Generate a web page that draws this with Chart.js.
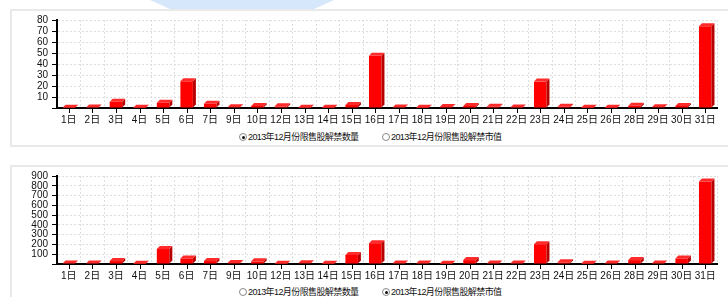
<!DOCTYPE html>
<html>
<head>
<meta charset="utf-8">
<script src="https://cdn.jsdelivr.net/npm/chart.js@4/dist/chart.umd.min.js"></script>
<style>
  body { margin: 0; background: #fff; width: 728px; height: 297px; overflow: hidden; position: relative;
         font-family: "Liberation Sans", "Noto Sans CJK SC", sans-serif; }
  .swoosh { position: absolute; left: 150px; top: 0; width: 184px; height: 10px; background: #d6e6fb;
            clip-path: polygon(0 0, 100% 0, 88% 100%, 12% 100%); }
  .panel { position: absolute; left: 10px; width: 730px; border: 2px solid #e9e9e9; background: #fff; }
  .box { position: absolute; left: 10px; width: 718px; height: 118px; }
  .legend { position: absolute; left: 0; width: 728px; height: 12px; font-size: 9px; letter-spacing: -0.6px; color: #111; }
  .legend span.item { position: absolute; top: 0; line-height: 12px; white-space: nowrap; }
  .radio { display: inline-block; width: 6px; height: 6px; border: 1px solid #888; border-radius: 50%;
           vertical-align: -1px; margin-right: 1px; position: relative; background: #fff; }
  .radio.on::after { content: ""; position: absolute; left: 1.5px; top: 1.5px; width: 3px; height: 3px;
           border-radius: 50%; background: #111; }
</style>
</head>
<body>
<div class="swoosh"></div>
<div class="panel" style="top:9px;height:134px"></div>
<div class="panel" style="top:165px;height:140px"></div>

<div class="box" style="top:10px"><canvas id="countChart" width="718" height="118"></canvas></div>
<div class="legend" style="top:131px">
  <span class="item" style="left:239px"><span class="radio on"></span>2013年12月份限售股解禁数量</span>
  <span class="item" style="left:382px"><span class="radio"></span>2013年12月份限售股解禁市值</span>
</div>

<div class="box" style="top:166px"><canvas id="valueChart" width="718" height="118"></canvas></div>
<div class="legend" style="top:286px">
  <span class="item" style="left:239px"><span class="radio"></span>2013年12月份限售股解禁数量</span>
  <span class="item" style="left:382px"><span class="radio on"></span>2013年12月份限售股解禁市值</span>
</div>

<script>
// trading days of December 2013
const days = ['1日', '2日', '3日', '4日', '5日', '6日', '7日', '9日', '10日', '12日', '13日', '14日',
  '15日', '16日', '17日', '18日', '19日', '20日', '21日', '22日', '23日', '24日', '25日', '26日',
  '28日', '29日', '30日', '31日'];

// 解禁数量
const unlockCount = [0.3, 0.5, 5.7, 0.2, 4.8, 24.3, 3.9, 0.6, 1.8, 1.5, 0.3, 0.2,
  2.7, 47.4, 0.5, 0.2, 0.9, 1.8, 1.2, 0.5, 24, 1.2, 0.2, 0.3,
  2.1, 0.6, 1.8, 74.3];

// 解禁市值
const unlockValue = [5, 5, 30, 2, 153, 57, 30, 10, 27, 3, 7, 3,
  93, 213, 5, 6, 3, 40, 5, 5, 203, 17, 3, 4,
  40, 5, 57, 843];

const countTicks = { max: 80, step: 10 };
const valueTicks = { max: 900, step: 100 };

const depth = 3;

// fake 3d: side + top face on each bar, plus x tick marks at category centres
const bar3d = {
  id: 'bar3d',
  afterDatasetsDraw(chart) {
    const ctx = chart.ctx;
    const meta = chart.getDatasetMeta(0);
    ctx.save();
    meta.data.forEach(bar => {
      const p = bar.getProps(['x', 'y', 'base', 'width'], true);
      const l = p.x - p.width / 2, r = p.x + p.width / 2;
      ctx.fillStyle = '#b80000';
      ctx.beginPath();
      ctx.moveTo(r, p.y);
      ctx.lineTo(r + depth, p.y - depth);
      ctx.lineTo(r + depth, p.base - depth);
      ctx.lineTo(r, p.base);
      ctx.closePath();
      ctx.fill();
      ctx.fillStyle = '#ff2a2a';
      ctx.beginPath();
      ctx.moveTo(l, p.y);
      ctx.lineTo(l + depth, p.y - depth);
      ctx.lineTo(r + depth, p.y - depth);
      ctx.lineTo(r, p.y);
      ctx.closePath();
      ctx.fill();
    });
    const xs = chart.scales.x;
    const bottom = chart.chartArea.bottom;
    ctx.strokeStyle = '#000';
    ctx.lineWidth = 1;
    days.forEach((d, i) => {
      const x = Math.round(xs.getPixelForValue(i)) + 0.5;
      ctx.beginPath();
      ctx.moveTo(x, bottom);
      ctx.lineTo(x, bottom + 5);
      ctx.stroke();
    });
    ctx.restore();
  }
};

function makeChart(id, values, ticks, padTop) {
  const ctx = document.getElementById(id).getContext('2d');
  return new Chart(ctx, {
    type: 'bar',
    data: {
      labels: days,
      datasets: [{
        data: values,
        backgroundColor: '#ff0000',
        borderWidth: 0,
        barPercentage: 0.53,
        categoryPercentage: 1
      }]
    },
    plugins: [bar3d],
    options: {
      responsive: false,
      animation: false,
      events: [],
      layout: { padding: { top: padTop, right: 11, left: 0, bottom: 0 } },
      plugins: { legend: { display: false }, tooltip: { enabled: false } },
      scales: {
        x: {
          afterFit(scale) { scale.height = 20; },
          grid: { color: '#dedede', offset: true, drawTicks: false },
          border: { color: '#000', width: 2, dash: [2, 2] },
          ticks: {
            padding: 6,
            color: '#111',
            autoSkip: false,
            maxRotation: 0,
            font: { family: '"Liberation Sans", "Noto Sans CJK SC"', size: 10 }
          }
        },
        y: {
          min: 0,
          max: ticks.max,
          afterFit(scale) { scale.width = 47; },
          grid: { color: '#dedede', tickColor: '#000', tickLength: 5, tickBorderDash: [] },
          border: { color: '#000', width: 2, dash: [2, 2] },
          ticks: {
            stepSize: ticks.step,
            autoSkip: false,
            padding: 4,
            color: '#111',
            font: { family: '"Liberation Sans"', size: 10 },
            callback: v => (v === 0 ? '' : v)
          }
        }
      }
    }
  });
}

makeChart('countChart', unlockCount, countTicks, 9);
makeChart('valueChart', unlockValue, valueTicks, 8);
</script>
</body>
</html>
